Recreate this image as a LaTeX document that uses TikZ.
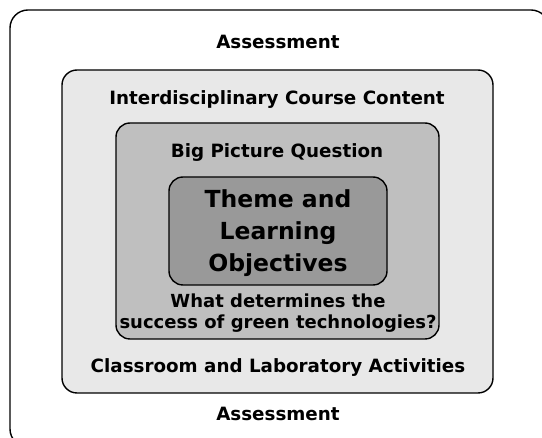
\documentclass[tikz,border=0pt]{standalone}
\usepackage{fontspec}
\setmainfont{DejaVu Sans}
\begin{document}
\begin{tikzpicture}[x=1pt,y=-1pt,
  frame/.style={draw=black,line width=1.4pt,rounded corners=#1},
  lbl/.style={font=\bfseries\fontsize{18.3}{21}\selectfont,text=black,inner sep=0pt},
  bigl/.style={font=\bfseries\fontsize{23.5}{32}\selectfont,align=center,text=black,inner sep=0pt},
  qlbl/.style={font=\bfseries\fontsize{18}{21}\selectfont,align=center,text=black,inner sep=0pt}]
\useasboundingbox (0,0) rectangle (542,438);
% nested frames, outermost first
\draw[frame=18, fill=white] (10,10) rectangle (549,447);
\draw[frame=15, fill=black!9] (62,70) rectangle (493,393);
\draw[frame=14, fill=black!25] (116,123) rectangle (439,339);
\draw[frame=14, fill=black!40] (169,177) rectangle (387,285);
% labels
\node[lbl] (assessTop) at (278,42) {Assessment};
\node[lbl] (content) at (277,100) {Interdisciplinary Course Content};
\node[lbl] (bigq) at (277,153) {Big Picture Question};
\node[bigl] (theme) at (278,233) {Theme and\\Learning\\Objectives};
\node[qlbl] (question) at (278,313) {What determines the\\success of green technologies?};
\node[lbl] (activities) at (278,368) {Classroom and Laboratory Activities};
\node[lbl] (assessBot) at (278,414) {Assessment};
\end{tikzpicture}
\end{document}
